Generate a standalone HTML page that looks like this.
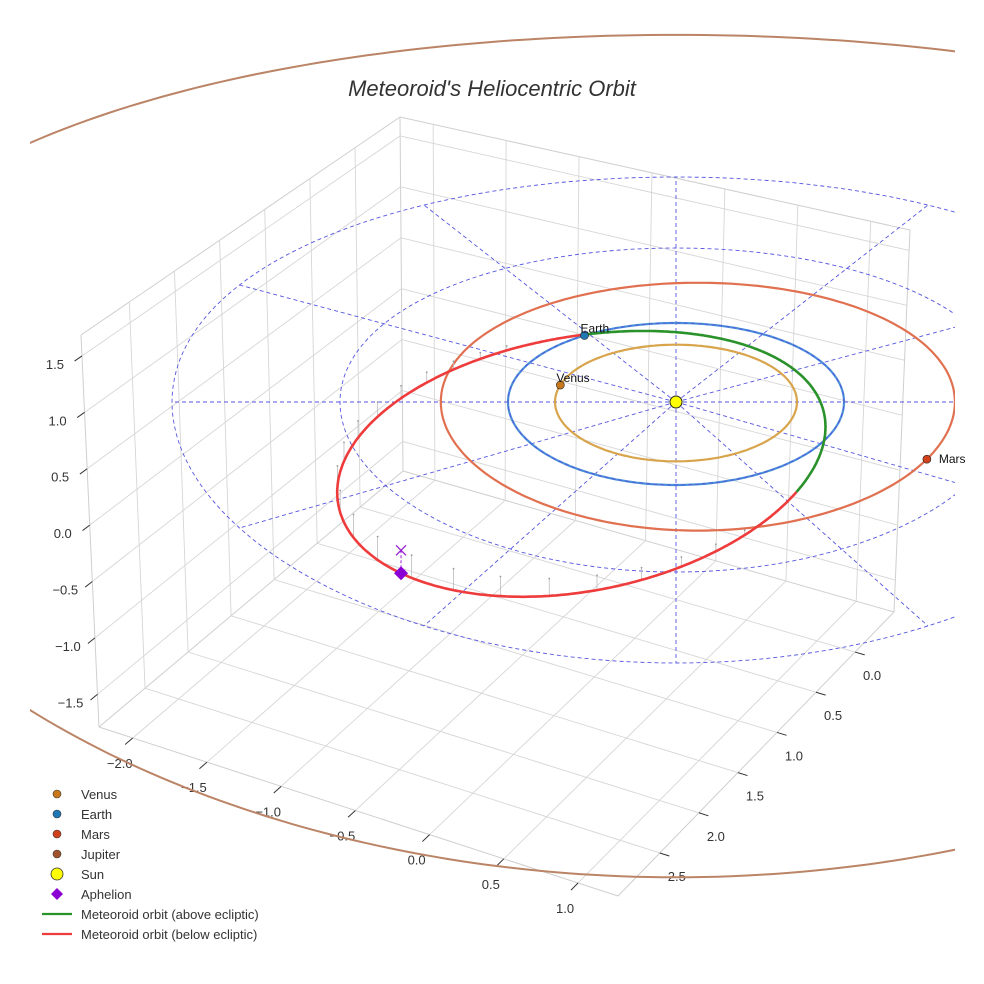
<!DOCTYPE html>
<html><head><meta charset="utf-8"><style>
html,body{margin:0;padding:0;background:#fff;}
svg{display:block;font-family:"Liberation Sans",sans-serif;}
</style></head><body>
<svg id="chart" width="984" height="984" viewBox="0 0 984 984" xmlns="http://www.w3.org/2000/svg">
<defs><clipPath id="clipJ"><rect x="30" y="30" width="925" height="860"/></clipPath>
<clipPath id="clipR"><rect x="0" y="0" width="955" height="984"/></clipPath></defs>
<text x="492" y="96" text-anchor="middle" font-size="22" font-style="italic" fill="#333">Meteoroid's Heliocentric Orbit</text>
<g id="box"></g>
<g id="plot" clip-path="url(#clipR)"></g>
<g id="legend"></g>
</svg>
<script>
// axis ticks
const xTicks=[-2.0,-1.5,-1.0,-0.5,0.0,0.5,1.0];
const yTicks=[0.0,0.5,1.0,1.5,2.0,2.5];
const zTicks=[-1.5,-1.0,-0.5,0.0,0.5,1.0,1.5];
// planets
const planetNames=['Venus','Earth','Mars'];
const orbitRadius=[0.72,1.0,1.53];
const orbitCenterX=[0,0,0.13];
const planetAngleDeg=[163,123,-27];
const planetColors=['#c8781a','#1f77b4','#d0401a'];
const orbitColors=['#d8a44c','#4a90d8','#e07050'];
const jupiterRadius=[5.2];
const ringRadii=[1,2,3];
const spokeAngles=[0,30,60,90,120,150,180,210,240,270,300,330];
// meteoroid orbit elements
const metEcc=[0.525];
const metSemiLatus=[1.14];
const metPeriArg=[47];
const metNode=[123];
const metIncl=[5];

const NS='http://www.w3.org/2000/svg';
function mk(tag,attrs,parent){const e=document.createElementNS(NS,tag);for(const k in attrs)e.setAttribute(k,attrs[k]);parent.appendChild(e);return e;}
const box=document.getElementById('box'), plot=document.getElementById('plot'), leg=document.getElementById('legend');
const svgRoot=document.getElementById('chart');

const B=[403,471],L=[99,727],F=[618,896],R=[894,612],Bt=[400,117],Lt=[81,335],Rt=[910,230];
const lerp=(a,b,t)=>[a[0]+(b[0]-a[0])*t,a[1]+(b[1]-a[1])*t];
const fx=v=>0.065+(v+2)*0.286;
const fy=v=>0.141+v*0.283;
const fz=v=>0.485-v*0.2877;
function line(p,q,attrs,parent,name){const e=mk('line',Object.assign({x1:p[0],y1:p[1],x2:q[0],y2:q[1]},attrs),parent);

return e;}
const G={stroke:'#d6d6d6','stroke-width':0.9};
[[Bt,B],[Lt,L],[Rt,R],[Lt,Bt],[Bt,Rt],[B,L],[B,R],[L,F],[R,F]].forEach(s=>line(s[0],s[1],{stroke:'#cfcfcf','stroke-width':1},box,'pane-edge'));
xTicks.forEach(v=>{const a=lerp(L,F,fx(v)),b=lerp(B,R,fx(v));line(a,b,G,box,'floor-gridline-x');
 const d=[a[0]-b[0],a[1]-b[1]],n=Math.hypot(d[0],d[1]);const t=[a[0]+d[0]/n*10,a[1]+d[1]/n*10];
 line(a,t,{stroke:'#333','stroke-width':1},box,'x-tick');
 const tx=mk('text',{x:a[0]-13,y:a[1]+30,'text-anchor':'middle','font-size':13,fill:'#333'},box);tx.textContent=(v<0?'\u2212':'')+Math.abs(v).toFixed(1);
 
 });
yTicks.forEach(v=>{const a=lerp(R,F,fy(v)),b=lerp(B,L,fy(v));line(a,b,G,box,'floor-gridline-y');
 const d=[a[0]-b[0],a[1]-b[1]],n=Math.hypot(d[0],d[1]);const t=[a[0]+d[0]/n*10,a[1]+d[1]/n*10];
 line(a,t,{stroke:'#333','stroke-width':1},box,'y-tick');
 const tx=mk('text',{x:a[0]+17,y:a[1]+28,'text-anchor':'middle','font-size':13,fill:'#333'},box);tx.textContent=v.toFixed(1);
 
 
 line(lerp(Bt,Lt,fy(v)),lerp(B,L,fy(v)),G,box,'left-wall-gridline');});
xTicks.forEach(v=>line(lerp(Bt,Rt,fx(v)),lerp(B,R,fx(v)),G,box,'right-wall-gridline'));
zTicks.forEach(v=>{const l=lerp(Lt,L,fz(v)),b=lerp(Bt,B,fz(v)),r=lerp(Rt,R,fz(v));
 line(l,b,G,box,'left-wall-gridline-z');line(b,r,G,box,'right-wall-gridline-z');
 const d=[l[0]-b[0],l[1]-b[1]],n=Math.hypot(d[0],d[1]);line(l,[l[0]+d[0]/n*9,l[1]+d[1]/n*9],{stroke:'#333','stroke-width':1},box,'z-tick');
 const tx=mk('text',{x:l[0]-27,y:l[1]+13,'text-anchor':'middle','font-size':13,fill:'#333'},box);tx.textContent=(v<0?'\u2212':'')+Math.abs(v).toFixed(1);
 
 });

const P=(x,y,z)=>[676+168*x,402-81*y+2*y*y-113*(z||0)];
function circlePath(cx,r,n){let d='';for(let i=0;i<=n;i++){const t=i/n*2*Math.PI;const p=P(cx+r*Math.cos(t),r*Math.sin(t),0);d+=(i?'L':'M')+p[0].toFixed(1)+','+p[1].toFixed(1);}return d;}
let jp=mk('path',{d:circlePath(0,jupiterRadius[0],400),fill:'none',stroke:'#bb8466','stroke-width':2,'clip-path':'url(#clipJ)'},svgRoot);


svgRoot.insertBefore(jp,plot);
const dash={fill:'none',stroke:'#5555e0','stroke-width':0.9,'stroke-dasharray':'4,3'};
spokeAngles.forEach(a=>{const t=a*Math.PI/180;const p=P(3*Math.cos(t),3*Math.sin(t),0);line(P(0,0,0),p,dash,plot,'radial-guide');});
planetNames.forEach((nm,i)=>{const e=mk('path',{d:circlePath(orbitCenterX[i],orbitRadius[i],240),fill:'none',stroke:orbitColors[i],'stroke-width':2.2},plot);
 
 });
ringRadii.forEach(r=>{const e=mk('path',Object.assign({d:circlePath(0,r,240)},dash),plot);
 
 });
const e0=metEcc[0],p0=metSemiLatus[0],w=metPeriArg[0],Om=metNode[0],inc=metIncl[0]*Math.PI/180;
function met(nuDeg){const nu=nuDeg*Math.PI/180;const r=p0/(1+e0*Math.cos(nu));const th=(w+nuDeg)*Math.PI/180;
 const z=-r*Math.sin(inc)*Math.sin(th-Om*Math.PI/180);return [r*Math.cos(th),r*Math.sin(th),z];}
let segs=[],cur=null;
for(let k=0;k<=720;k++){const nu=k/2;const q=met(nu);const up=q[2]>=0;
 if(!cur||cur.up!==up){if(cur)cur.pts.push(q);cur={up,pts:[]};segs.push(cur);} cur.pts.push(q);}
for(let nu=0;nu<360;nu+=7){const q=met(nu);if(q[2]<-0.03){const a=P(q[0],q[1],q[2]),b=P(q[0],q[1],0);
 line(a,b,{stroke:'#bbb','stroke-width':0.8},plot,'dropline');
 const c=mk('circle',{cx:b[0],cy:b[1],r:0.9,fill:'#999'},plot);
 }}
segs.forEach(s=>{const d=s.pts.map((q,i)=>{const p=P(q[0],q[1],q[2]);return (i?'L':'M')+p[0].toFixed(1)+','+p[1].toFixed(1);}).join('');
 const e=mk('path',{d,fill:'none',stroke:s.up?'#2a922a':'#ee3b3b','stroke-width':2.6},plot);
 
 });
const ap=met(180),apP=P(ap[0],ap[1],ap[2]),apE=P(ap[0],ap[1],0);
line(apP,apE,{stroke:'#9a20d0','stroke-width':1,'stroke-dasharray':'3,2'},plot,'aphelion-dropline');
let ax=mk('path',{d:`M${apE[0]-5},${apE[1]-5}L${apE[0]+5},${apE[1]+5}M${apE[0]+5},${apE[1]-5}L${apE[0]-5},${apE[1]+5}`,stroke:'#9a20d0','stroke-width':1.3},plot);


let ad=mk('path',{d:`M${apP[0]},${apP[1]-7}L${apP[0]+7},${apP[1]}L${apP[0]},${apP[1]+7}L${apP[0]-7},${apP[1]}Z`,fill:'#8a00d4'},plot);


let sun=mk('circle',{cx:P(0,0,0)[0],cy:P(0,0,0)[1],r:6,fill:'#ffff00',stroke:'#222','stroke-width':1},plot);


planetNames.forEach((nm,i)=>{const t=planetAngleDeg[i]*Math.PI/180;const p=P(orbitCenterX[i]+orbitRadius[i]*Math.cos(t),orbitRadius[i]*Math.sin(t),0);
 const c=mk('circle',{cx:p[0],cy:p[1],r:4,fill:planetColors[i],stroke:'#222','stroke-width':0.6},plot);
 
 
 const tx=mk('text',nm==='Mars'?{x:p[0]+12,y:p[1]+4,'font-size':12,fill:'#111'}:{x:p[0]-4,y:p[1]-3,'font-size':12,fill:'#111'},svgRoot);tx.textContent=nm;
 
 });
const legLabels=['Venus','Earth','Mars','Jupiter','Sun','Aphelion','Meteoroid orbit (above ecliptic)','Meteoroid orbit (below ecliptic)'];
const legColors=['#c8781a','#1f77b4','#d0401a','#a0522d','#ffff00','#8a00d4','#2a922a','#ee3b3b'];
legLabels.forEach((lb,i)=>{const y=794+i*20;let m;
 if(i<4)m=mk('circle',{cx:57,cy:y,r:4,fill:legColors[i],stroke:'#333','stroke-width':0.6},leg);
 else if(i===4)m=mk('circle',{cx:57,cy:y,r:6,fill:legColors[i],stroke:'#333','stroke-width':0.8},leg);
 else if(i===5)m=mk('path',{d:`M57,${y-6}L63,${y}L57,${y+6}L51,${y}Z`,fill:legColors[i]},leg);
 else m=mk('line',{x1:42,y1:y,x2:72,y2:y,stroke:legColors[i],'stroke-width':2.2},leg);
 
 
 const tx=mk('text',{x:81,y:y+5,'font-size':13,fill:'#333'},leg);tx.textContent=lb;
 
 });
</script>
</body></html>
